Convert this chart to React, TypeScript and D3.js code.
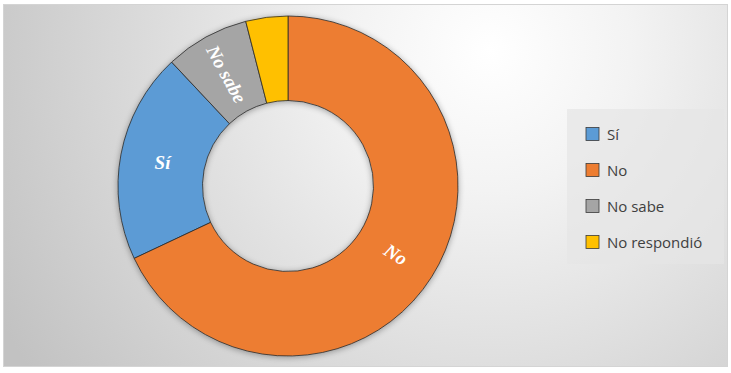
import React from "react";
import * as d3 from "d3";

const categories = ["Sí", "No", "No sabe", "No respondió"];
const values = [20, 68, 8, 4];
const colors = ["#5B9BD5", "#ED7D31", "#A5A5A5", "#FFC000"];
const drawOrder = ["No", "Sí", "No sabe", "No respondió"];
const showLabel = [true, true, true, false];
const radialLabel = [false, true, true, false];

const W = 731;
const H = 373;

export default function App() {
  const cx = 288;
  const cy = 186;
  const outerR = 170;
  const innerR = 85.5;

  const items = categories.map((c, i) => ({ c, v: values[i], i }));
  const pie = d3
    .pie<any>()
    .value((d: any) => d.v)
    .sort((a: any, b: any) => drawOrder.indexOf(a.c) - drawOrder.indexOf(b.c));
  const arcs = pie(items);
  const arc = d3.arc<any>().innerRadius(innerR).outerRadius(outerR);
  const labelArc = d3.arc<any>().innerRadius((innerR + outerR) / 2).outerRadius((innerR + outerR) / 2);

  const legendY = d3.scaleLinear().domain([0, 1]).range([134, 170]);

  return (
    <svg
      width={W}
      height={H}
      style={{ position: "fixed", left: 0, top: 0 }}
      xmlns="http://www.w3.org/2000/svg"
    >
      <defs>
        <radialGradient id="bg" gradientUnits="userSpaceOnUse" cx={490} cy={50} r={560}>
          <stop offset="0" stopColor="#ffffff" />
          <stop offset="0.25" stopColor="#f3f3f3" />
          <stop offset="0.6" stopColor="#dcdcdc" />
          <stop offset="1" stopColor="#c2c2c2" />
        </radialGradient>
        <filter id="shadow" x="-20%" y="-20%" width="140%" height="140%">
          <feGaussianBlur in="SourceAlpha" stdDeviation="3" />
          <feOffset dx="0" dy="1" result="b" />
          <feComponentTransfer>
            <feFuncA type="linear" slope="0.35" />
          </feComponentTransfer>
          <feMerge>
            <feMergeNode />
            <feMergeNode in="SourceGraphic" />
          </feMerge>
        </filter>
      </defs>
      <rect x={0} y={0} width={W} height={H} fill="#ffffff" />
      <rect x={3.5} y={4.5} width={724} height={362} fill="url(#bg)" stroke="#d4d4d4" strokeWidth={1} />
      <g transform={`translate(${cx},${cy})`}>
        <g filter="url(#shadow)">
          {arcs.map((a: any) => (
            <path
              key={a.data.c}
              d={arc(a) as string}
              fill={colors[a.data.i]}
              stroke="#2b2b2b"
              strokeWidth={0.8}
            />
          ))}
        </g>
        {arcs.map((a: any) => {
          if (!showLabel[a.data.i]) return null;
          const [x, y] = labelArc.centroid(a);
          let rot = 0;
          if (radialLabel[a.data.i]) {
            const mid = (((a.startAngle + a.endAngle) / 2) * 180) / Math.PI;
            rot = mid - 90;
            while (rot > 90) rot -= 180;
            while (rot < -90) rot += 180;
          }
          return (
            <text
              key={"l" + a.data.c}
              transform={`translate(${x},${y}) rotate(${rot})`}
              textAnchor="middle"
              dominantBaseline="central"
              fill="#ffffff"
              fontFamily="'Liberation Serif', 'DejaVu Serif', serif"
              fontWeight="bold"
              fontStyle="italic"
              fontSize={19}
            >
              {a.data.c}
            </text>
          );
        })}
      </g>
      <rect x={567} y={109} width={157} height={155} fill="#e6e6e6" fillOpacity={0.7} />
      {categories.map((c, i) => (
        <g key={"lg" + c}>
          <rect
            x={586}
            y={legendY(i) - 6.5}
            width={13}
            height={13}
            fill={colors[i]}
            stroke="#3a3a3a"
            strokeWidth={0.8}
          />
          <text
            x={607}
            y={legendY(i)}
            dominantBaseline="central"
            fill="#404040"
            fontFamily="'Open Sans', 'Noto Sans', sans-serif"
            fontSize={15}
          >
            {c}
          </text>
        </g>
      ))}
    </svg>
  );
}
